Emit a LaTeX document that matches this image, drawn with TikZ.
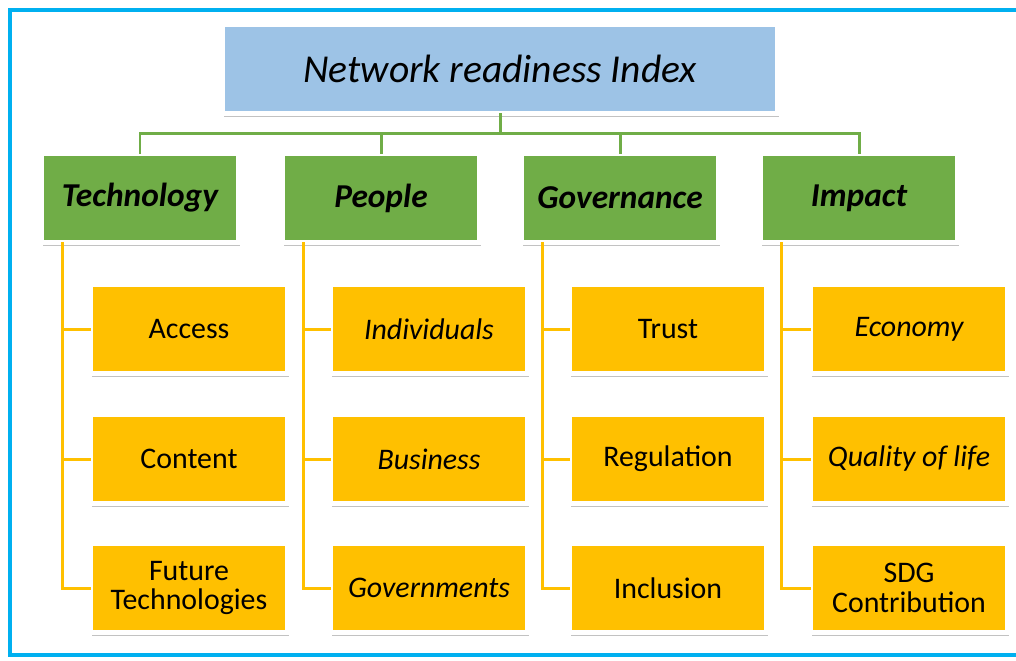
\documentclass[tikz,border=0pt]{standalone}
\usepackage{fontspec}
\setmainfont{Carlito}
\usetikzlibrary{shadows}
\definecolor{rootblue}{RGB}{157,195,230}
\definecolor{pillargreen}{RGB}{112,173,71}
\definecolor{subamber}{RGB}{255,192,0}
\definecolor{framecyan}{RGB}{0,176,240}

\tikzset{
  box/.style={draw=white,line width=2.8pt,outer sep=0pt,align=center,
    minimum width=3.94cm,minimum height=1.78cm,inner sep=1pt,
    drop shadow={shadow xshift=0.6pt,shadow yshift=-1.8pt,opacity=0.4,fill=black!60}},
  rootbox/.style={box,fill=rootblue,minimum width=11.1cm,
    font=\fontsize{22.5}{26}\selectfont\itshape},
  pillar/.style={box,fill=pillargreen,font=\fontsize{19}{22}\selectfont\bfseries\itshape},
  sub/.style={box,fill=subamber,font=\fontsize{17}{17}\selectfont},
  subit/.style={sub,font=\fontsize{17}{17}\selectfont\itshape},
  gline/.style={draw=pillargreen,line width=1.7pt},
  yline/.style={draw=subamber,line width=1.7pt}
}

\begin{document}
\begin{tikzpicture}[x=0.02cm,y=-0.02cm]
  \useasboundingbox (0,0) rectangle (1016,660);
  \draw[framecyan,line width=2.4pt] (1016,10) -- (10,10) -- (10,655) -- (1016,655);

  \node (root) at (500,69) [rootbox] {Network readiness Index};

  \node (tech) at (140,198) [pillar] {Technology};
  \node (peop) at (381,198) [pillar] {People};
  \node (gov)  at (620,198) [pillar] {Governance};
  \node (imp)  at (859,198) [pillar] {Impact};

  \node (acc)  at (189,329) [sub] {Access};
  \node (cont) at (189,459) [sub] {Content};
  \node (fut)  at (189,588) [sub] {Future\\Technologies};
  \node (indi) at (429,329) [subit] {Individuals};
  \node (bus)  at (429,459) [subit] {Business};
  \node (govt) at (429,588) [subit] {Governments};
  \node (tru)  at (668,329) [sub] {Trust};
  \node (reg)  at (668,459) [sub] {Regulation};
  \node (incl) at (668,588) [sub] {Inclusion};
  \node (eco)  at (909,329) [subit] {Economy};
  \node (qol)  at (909,459) [subit] {Quality of life};
  \node (sdg)  at (909,588) [sub] {SDG\\Contribution};

  % top level to pillars
  \foreach \p in {tech,peop,gov,imp}
    \draw[gline] (root.south) -- ++(0,20) -| (\p.north);

  % pillars to their parts
  \foreach \p/\a/\b/\c in {tech/acc/cont/fut,peop/indi/bus/govt,gov/tru/reg/incl,imp/eco/qol/sdg}
    \draw[yline] ([xshift=0.41cm]\p.south west) |- (\a.west)
                 ([xshift=0.41cm]\p.south west) |- (\b.west)
                 ([xshift=0.41cm]\p.south west) |- (\c.west);
\end{tikzpicture}
\end{document}
